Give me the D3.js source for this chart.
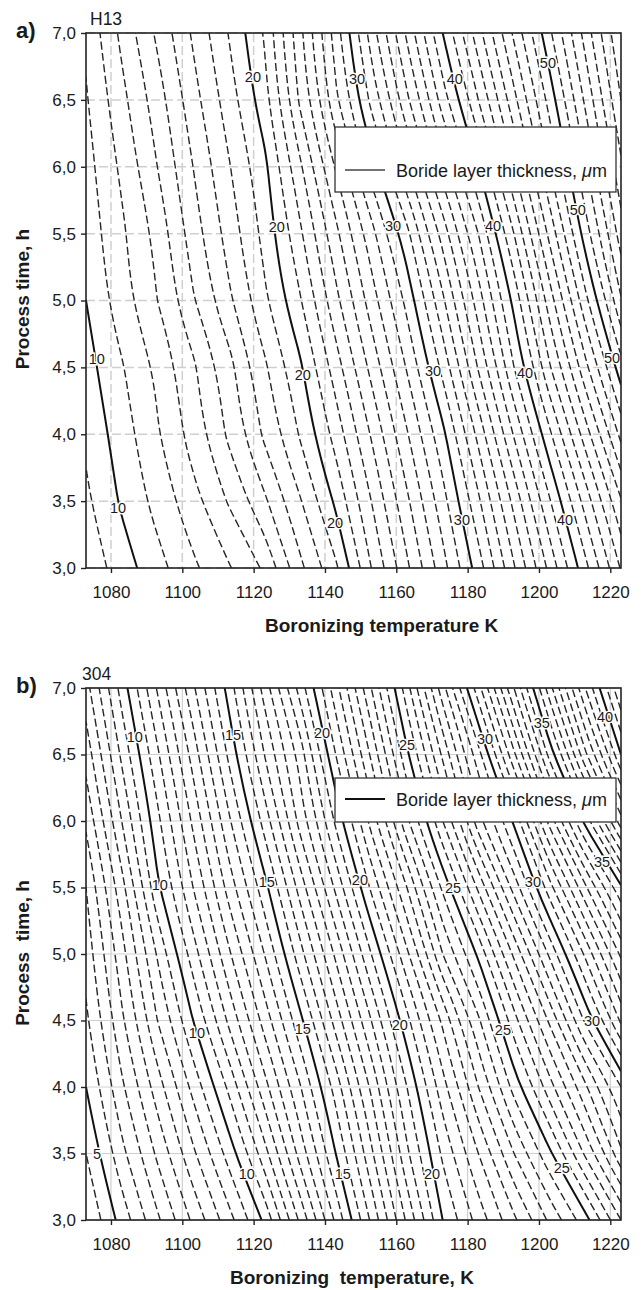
<!DOCTYPE html>
<html>
<head>
<meta charset="utf-8">
<script src="https://cdn.jsdelivr.net/npm/d3@7"></script>
<style>
  body { margin: 0; background: #fff; }
  svg text { font-family: "Liberation Sans", Arial, sans-serif; fill: #1a1a1a; }
</style>
</head>
<body>
<svg id="fig" width="642" height="1290"></svg>
<script>
// grid nodes the thickness was read at
const tempGrid = [1073, 1083, 1093, 1103, 1113, 1123, 1133, 1143, 1153, 1163, 1173, 1183, 1193, 1203, 1213, 1223];
const timeGrid = [3.0, 3.5, 4.0, 4.5, 5.0, 5.5, 6.0, 6.5, 7.0];

// boride layer thickness (um), one row per process time (3.0 h first), one column per temperature
const h13Thickness = [
  [8.3, 9.5, 10.65, 11.8, 12.9, 14.15, 16.75, 18.8, 22.0, 24.8, 27.6, 30.5, 33.9, 37.3, 40.7, 44.1],
  [8.8, 10.15, 11.35, 12.65, 14.1, 15.8, 17.9, 20.2, 23.0, 25.8, 28.6, 31.8, 35.3, 38.9, 42.4, 45.9],
  [9.2, 10.5, 11.9, 13.45, 15.2, 17.2, 19.1, 21.4, 24.1, 26.9, 29.7, 33.3, 37.1, 40.8, 44.5, 48.3],
  [9.6, 10.9, 12.2, 13.8, 15.6, 17.8, 19.8, 22.5, 25.3, 28.1, 31.3, 35.1, 39.0, 42.9, 46.7, 50.6],
  [10.0, 11.6, 13.0, 14.9, 16.8, 18.8, 20.9, 23.7, 26.5, 29.3, 32.8, 36.5, 40.3, 44.5, 48.7, 52.9],
  [10.4, 11.8, 13.3, 15.5, 17.4, 19.3, 21.8, 24.7, 27.6, 30.7, 34.4, 38.0, 42.0, 46.3, 50.5, 54.5],
  [10.6, 12.2, 14.0, 16.0, 17.9, 19.7, 22.8, 26.1, 29.5, 32.9, 36.5, 40.0, 44.0, 48.0, 51.9, 55.8],
  [10.9, 12.7, 14.5, 16.6, 18.5, 20.6, 24.2, 27.8, 31.3, 34.8, 38.5, 42.0, 45.7, 49.4, 53.2, 57.0],
  [11.2, 13.24, 15.2, 17.15, 19.04, 21.1, 24.7, 28.46, 32.45, 36.2, 40.0, 43.6, 47.2, 50.8, 54.4, 58.0]
];

const s304Thickness = [
  [4.0, 5.2, 6.4, 7.6, 8.8, 10.1, 12.1, 14.1, 16.1, 18.1, 20.0, 21.2, 22.4, 23.6, 24.8, 26.5],
  [4.5, 5.85, 7.1, 8.4, 9.7, 11.3, 13.2, 15.0, 16.9, 18.9, 20.6, 22.0, 23.5, 24.9, 26.6, 28.4],
  [5.0, 6.4, 7.75, 9.15, 10.6, 12.3, 13.95, 15.7, 17.6, 19.5, 21.3, 23.0, 24.7, 26.3, 27.9, 29.5],
  [5.4, 6.9, 8.5, 10.0, 11.6, 13.2, 14.85, 16.7, 18.5, 20.35, 22.1, 23.9, 25.8, 27.6, 29.6, 31.6],
  [5.7, 7.3, 9.05, 10.75, 12.4, 14.0, 15.8, 17.6, 19.5, 21.4, 23.5, 25.1, 27.1, 29.1, 31.1, 33.1],
  [6.0, 7.8, 9.9, 11.5, 13.2, 14.8, 16.7, 18.6, 20.6, 22.5, 24.6, 26.6, 28.7, 30.8, 32.9, 34.9],
  [6.6, 8.5, 10.35, 12.1, 13.9, 15.7, 17.7, 19.6, 21.7, 23.9, 26.0, 28.3, 30.1, 32.7, 35.2, 37.8],
  [7.2, 9.1, 10.9, 12.7, 14.6, 16.5, 18.2, 20.5, 22.6, 24.9, 27.1, 29.3, 31.9, 34.7, 37.4, 40.0],
  [7.8, 9.7, 11.55, 13.4, 15.2, 17.2, 19.2, 21.3, 23.5, 25.8, 28.3, 30.8, 33.5, 36.3, 39.0, 41.5]
];

// contour levels: every 1 um (H13) and every 0.5 um (304)
const h13Levels = d3.range(8, 59);
const h13Major = [10, 20, 30, 40, 50];
const s304Levels = d3.range(8, 84).map(k => k / 2);
const s304Major = [5, 10, 15, 20, 25, 30, 35, 40];

const xTicks = [1080, 1100, 1120, 1140, 1160, 1180, 1200, 1220];
const yTicks = [3.0, 3.5, 4.0, 4.5, 5.0, 5.5, 6.0, 6.5, 7.0];

// contour labels: [text, temperature, time]
const h13Labels = [
  ["20", 1119.8, 6.67], ["30", 1149.0, 6.66], ["40", 1176.4, 6.66], ["50", 1202.5, 6.78],
  ["20", 1126.5, 5.55], ["30", 1159.1, 5.56], ["40", 1187.1, 5.56], ["50", 1210.9, 5.68],
  ["10", 1076.0, 4.56], ["20", 1133.8, 4.44], ["30", 1170.3, 4.47], ["40", 1196.1, 4.46], ["50", 1220.5, 4.57],
  ["10", 1082.0, 3.45], ["20", 1142.8, 3.34], ["30", 1178.4, 3.36], ["40", 1207.3, 3.36]
];
const s304Labels = [
  ["10", 1086.7, 6.63], ["15", 1114.2, 6.65], ["20", 1139.2, 6.66], ["25", 1163.0, 6.57],
  ["30", 1184.9, 6.62], ["35", 1200.8, 6.74], ["40", 1218.5, 6.78],
  ["10", 1093.7, 5.52], ["15", 1123.7, 5.54], ["20", 1149.8, 5.56], ["25", 1175.9, 5.50],
  ["30", 1198.3, 5.54], ["35", 1217.7, 5.69],
  ["10", 1104.1, 4.41], ["15", 1133.8, 4.44], ["20", 1161.0, 4.47], ["25", 1189.9, 4.43], ["30", 1214.9, 4.50],
  ["5", 1076.1, 3.50], ["10", 1118.1, 3.35], ["15", 1145.0, 3.35], ["20", 1170.0, 3.35], ["25", 1206.4, 3.39]
];

const svg = d3.select("#fig");
const fmtY = d => d3.format(".1f")(d).replace(".", ",");

// split a contour ring into the open isolines, dropping the parts on the grid border
function isolines(ring, nx, ny) {
  const pts = ring.slice(0, -1);
  const onEdge = p => p[0] === 0 || p[0] === nx || p[1] === 0 || p[1] === ny;
  const start = pts.findIndex(onEdge);
  if (start < 0) return [{ closed: true, pts: pts }];
  const rot = pts.slice(start).concat(pts.slice(0, start));
  const runs = [];
  let cur = [];
  rot.forEach(p => {
    if (onEdge(p)) { if (cur.length > 1) runs.push(cur); cur = []; }
    else cur.push(p);
  });
  if (cur.length > 1) runs.push(cur);
  return runs.map(r => ({ closed: false, pts: r }));
}

function drawPanel(cfg) {
  const x = d3.scaleLinear().domain([1073, 1223]).range([86, 621]);
  const y = d3.scaleLinear().domain([3, 7]).range([cfg.bottom, cfg.top]);
  const g = svg.append("g");

  g.append("clipPath").attr("id", cfg.id + "-clip")
    .append("rect")
    .attr("x", x(1073)).attr("y", y(7))
    .attr("width", x(1223) - x(1073)).attr("height", y(3) - y(7));

  // grid
  const grid = g.append("g")
    .attr("stroke", "#cfcfcf")
    .attr("stroke-width", cfg.gridDash ? 1.5 : 1.2)
    .attr("stroke-dasharray", cfg.gridDash || null);
  grid.selectAll(".vx").data(xTicks).join("line")
    .attr("x1", d => x(d)).attr("x2", d => x(d))
    .attr("y1", y(7)).attr("y2", y(3));
  grid.selectAll(".hy").data(yTicks).join("line")
    .attr("y1", d => y(d)).attr("y2", d => y(d))
    .attr("x1", x(1073)).attr("x2", x(1223));

  // contours
  const nx = tempGrid.length, ny = timeGrid.length;
  const cs = d3.contours().size([nx, ny]).thresholds(cfg.levels)(cfg.grid.flat());
  const gx = d3.scaleLinear().domain([0.5, nx - 0.5]).range([x(tempGrid[0]), x(tempGrid[nx - 1])]);
  const gy = d3.scaleLinear().domain([0.5, ny - 0.5]).range([y(timeGrid[0]), y(timeGrid[ny - 1])]);
  const openLine = d3.line().x(p => gx(p[0])).y(p => gy(p[1])).curve(d3.curveBasis);
  const closedLine = d3.line().x(p => gx(p[0])).y(p => gy(p[1])).curve(d3.curveBasisClosed);

  const cg = g.append("g").attr("clip-path", "url(#" + cfg.id + "-clip)").attr("fill", "none");
  cs.forEach(c => {
    const major = cfg.major.includes(c.value);
    c.coordinates.forEach(poly => poly.forEach(ring => {
      isolines(ring, nx, ny).forEach(iso => {
        cg.append("path")
          .attr("d", iso.closed ? closedLine(iso.pts) : openLine(iso.pts))
          .attr("stroke", major ? "#111" : "#262626")
          .attr("stroke-width", major ? 2 : 1.4)
          .attr("stroke-dasharray", major ? null : "8,3.5");
      });
    }));
  });

  // contour labels
  g.append("g").selectAll("text").data(cfg.labels).join("text")
    .attr("x", d => x(d[1])).attr("y", d => y(d[2]))
    .attr("dy", "0.35em")
    .attr("text-anchor", "middle")
    .attr("font-size", 14.5)
    .attr("stroke", "#fff").attr("stroke-width", 3)
    .attr("paint-order", "stroke")
    .text(d => d[0]);

  // axes
  const ax = g.append("g")
    .attr("transform", "translate(0," + y(3) + ")")
    .call(d3.axisBottom(x).tickValues(xTicks).tickFormat(d3.format("d")).tickSize(5).tickPadding(13));
  const ay = g.append("g")
    .attr("transform", "translate(" + x(1073) + ",0)")
    .call(d3.axisLeft(y).tickValues(yTicks).tickFormat(fmtY).tickSize(5).tickPadding(5));
  [ax, ay].forEach(a => {
    a.select(".domain").remove();
    a.selectAll("line").attr("stroke", "#222").attr("stroke-width", 1.4);
    a.selectAll("text").attr("font-size", 17).attr("fill", "#1a1a1a")
      .style("font-family", "'Liberation Sans', Arial, sans-serif");
  });

  g.append("rect")
    .attr("x", x(1073)).attr("y", y(7))
    .attr("width", x(1223) - x(1073)).attr("height", y(3) - y(7))
    .attr("fill", "none").attr("stroke", "#222").attr("stroke-width", 1.6);

  // titles
  g.append("text").attr("x", 16).attr("y", cfg.top + 5)
    .attr("font-size", 22).attr("font-weight", "bold").text(cfg.tag);
  g.append("text").attr("x", cfg.nameX).attr("y", cfg.top - 8)
    .attr("font-size", 17.5).text(cfg.name);
  g.append("text")
    .attr("transform", "translate(29," + cfg.yTitleMid + ") rotate(-90)")
    .attr("text-anchor", "middle")
    .attr("font-size", 19).attr("font-weight", "bold")
    .style("white-space", "pre")
    .text(cfg.yTitle);
  g.append("text")
    .attr("x", cfg.xTitleX).attr("y", cfg.xTitleY)
    .attr("font-size", 19).attr("font-weight", "bold")
    .style("white-space", "pre")
    .text(cfg.xTitle);

  // legend
  const lg = g.append("g");
  lg.append("rect")
    .attr("x", 335).attr("y", cfg.legY).attr("width", 281).attr("height", cfg.legH)
    .attr("fill", "#fff").attr("stroke", "#333").attr("stroke-width", 1.3);
  lg.append("line")
    .attr("x1", 345).attr("x2", 385)
    .attr("y1", cfg.legLine).attr("y2", cfg.legLine)
    .attr("stroke", cfg.legStroke).attr("stroke-width", cfg.legWidth);
  const lt = lg.append("text").attr("x", 396).attr("y", cfg.legLine + 7).attr("font-size", 18);
  lt.append("tspan").text("Boride layer thickness, ");
  lt.append("tspan").attr("font-style", "italic").text("\u03bc");
  lt.append("tspan").text("m");
}

drawPanel({
  id: "h13", top: 33, bottom: 568, tag: "a)", name: "H13", nameX: 90,
  grid: h13Thickness, levels: h13Levels, major: h13Major, labels: h13Labels,
  gridDash: "9,4",
  yTitle: "Process time, h", yTitleMid: 299,
  xTitle: "Boronizing temperature K", xTitleX: 265, xTitleY: 632,
  legY: 127, legH: 65, legLine: 170, legStroke: "#444", legWidth: 1.3
});

drawPanel({
  id: "s304", top: 688, bottom: 1220, tag: "b)", name: "304", nameX: 82,
  grid: s304Thickness, levels: s304Levels, major: s304Major, labels: s304Labels,
  gridDash: null,
  yTitle: "Process  time, h", yTitleMid: 953,
  xTitle: "Boronizing  temperature, K", xTitleX: 230, xTitleY: 1284,
  legY: 778, legH: 44, legLine: 799, legStroke: "#111", legWidth: 2.2
});
</script>
</body>
</html>
